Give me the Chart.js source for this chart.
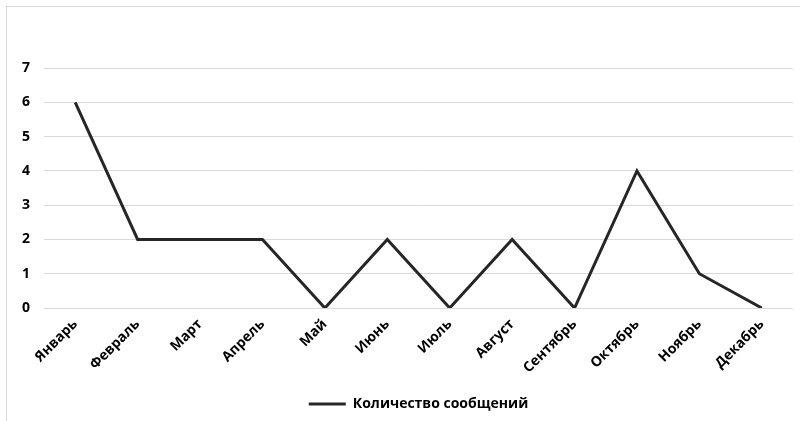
<!DOCTYPE html>
<html lang="ru">
<head>
<meta charset="utf-8">
<title>Количество сообщений</title>
<script src="https://cdn.jsdelivr.net/npm/chart.js@4.4.1/dist/chart.umd.min.js"></script>
<style>
  html, body { margin: 0; padding: 0; background: #fff; }
  .wrap { position: relative; width: 800px; height: 421px; }
  .frame {
    position: absolute; left: 6px; top: 6px; right: 0; bottom: 0;
    border-top: 1px solid #d9d9d9; border-left: 1px solid #d9d9d9;
    pointer-events: none;
  }
</style>
</head>
<body>
<div class="wrap">
  <canvas id="myChart" width="800" height="421"></canvas>
  <div class="frame"></div>
</div>
<script>
// данные графика
const months = [
  "Январь", "Февраль", "Март", "Апрель", "Май", "Июнь",
  "Июль", "Август", "Сентябрь", "Октябрь", "Ноябрь", "Декабрь",
];
const messageCounts = [6, 2, 2, 2, 0, 2, 0, 2, 0, 4, 1, 0];
const yTicks = [0, 1, 2, 3, 4, 5, 6, 7];
const seriesName = "Количество сообщений";

const LINE = "#262626";
const GRID = "#d9d9d9";
const FONT = "'Open Sans', 'DejaVu Sans', sans-serif";

const initChart = () => {
  const canvas = document.getElementById("myChart");
  if (!canvas) return;

  new Chart(canvas, {
    type: "line",
    data: {
      labels: months,
      datasets: [
        {
          label: seriesName,
          data: messageCounts,
          borderColor: LINE,
          backgroundColor: LINE,
          borderWidth: 3,
          pointRadius: 0,
          tension: 0,
          fill: false,
        },
      ],
    },
    options: {
      responsive: false,
      animation: false,
      layout: { padding: { top: 68, right: 7, left: 0, bottom: 0 } },
      plugins: {
        tooltip: { enabled: false },
        legend: {
          position: "bottom",
          fullSize: false,
          labels: {
            usePointStyle: true,
            pointStyle: "line",
            pointStyleWidth: 37,
            padding: 9,
            color: "#000",
            font: { family: FONT, size: 14, weight: "bold" },
          },
        },
      },
      scales: {
        x: {
          offset: true,
          grid: { display: false, drawTicks: false },
          border: { display: false },
          afterFit: (scale) => { scale.height = 80; },
          ticks: {
            autoSkip: false,
            minRotation: 45,
            maxRotation: 45,
            padding: 8,
            color: "#000",
            font: { family: FONT, size: 14, weight: "bold" },
          },
        },
        y: {
          min: yTicks[0],
          max: yTicks[yTicks.length - 1],
          afterFit: (scale) => { scale.width = 44; },
          afterBuildTicks: (scale) => { scale.ticks = yTicks.map((v) => ({ value: v })); },
          grid: { color: GRID, lineWidth: 1, drawTicks: false },
          border: { display: false },
          ticks: {
            padding: 14,
            color: "#000",
            font: { family: FONT, size: 14, weight: "bold" },
          },
        },
      },
    },
  });
};

if (document.readyState === "loading") {
  document.addEventListener("DOMContentLoaded", initChart);
} else {
  initChart();
}
</script>
</body>
</html>
